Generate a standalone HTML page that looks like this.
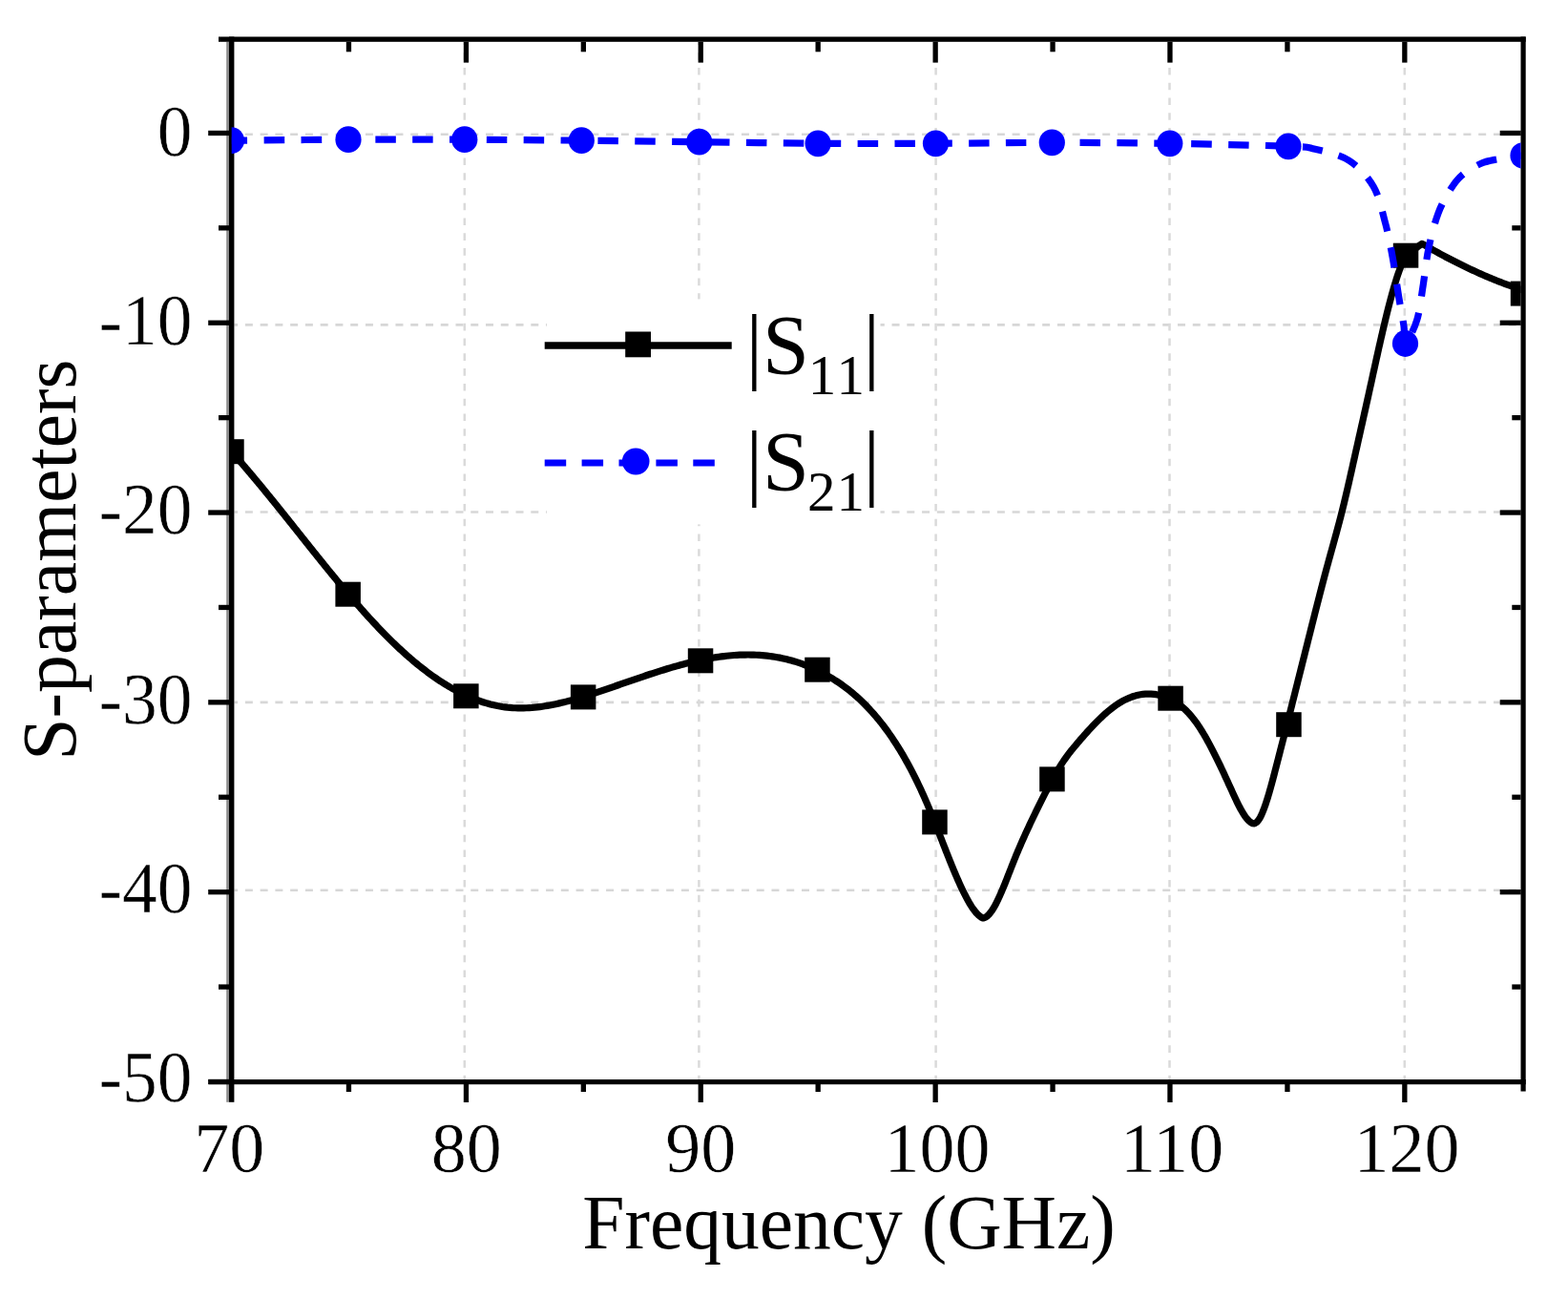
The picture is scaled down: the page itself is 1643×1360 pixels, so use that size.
<!DOCTYPE html><html><head><meta charset="utf-8"><title>S-parameters</title><style>html,body{margin:0;padding:0;background:#fff;overflow:hidden}svg{display:block}</style></head><body>
<svg width="1643" height="1360" viewBox="0 0 1643 1360">
<rect width="1643" height="1360" fill="#fff"/>
<defs><clipPath id="pa"><rect x="242.7" y="41" width="1350.8" height="1092.5"/></clipPath></defs>
<path d="M245.5,140.7H1593.5M245.5,340.4H1593.5M245.5,536.5H1593.5M245.5,735.9H1593.5M245.5,932.7H1593.5" stroke="#d7d7d7" stroke-width="2.6" stroke-dasharray="8 7.76" stroke-dashoffset="4.4" fill="none"/>
<path d="M486.8,44V1131M732.4,44V1131M980.6,44V1131M1225.5,44V1131M1471.8,44V1131" stroke="#dadada" stroke-width="2.5" stroke-dasharray="7.6 8.16" stroke-dashoffset="4.6" fill="none"/>
<rect x="573" y="313.4" width="349.5" height="236" fill="#fff"/>
<rect x="237.2" y="43.8" width="2.8" height="1111" fill="#8c8c8c"/>
<rect x="240" y="38.5" width="5.4" height="1116.3" fill="#000"/><rect x="1593.5" y="38.5" width="5.2" height="1105" fill="#000"/><rect x="229" y="38.5" width="1369.7" height="5.3" fill="#000"/><rect x="218.6" y="1131" width="1380.1" height="5.2" fill="#000"/><rect x="218.2" y="136.8" width="22" height="5.3" fill="#000"/><rect x="1571.7" y="136.8" width="22" height="5.3" fill="#000"/><rect x="218.2" y="335.6" width="22" height="5.3" fill="#000"/><rect x="1571.7" y="335.6" width="22" height="5.3" fill="#000"/><rect x="218.2" y="534.4" width="22" height="5.3" fill="#000"/><rect x="1571.7" y="534.4" width="22" height="5.3" fill="#000"/><rect x="218.2" y="733.2" width="22" height="5.3" fill="#000"/><rect x="1571.7" y="733.2" width="22" height="5.3" fill="#000"/><rect x="218.2" y="932.0" width="22" height="5.3" fill="#000"/><rect x="1571.7" y="932.0" width="22" height="5.3" fill="#000"/><rect x="218.2" y="1130.8" width="22" height="5.3" fill="#000"/><rect x="229" y="236.2" width="11" height="5.3" fill="#000"/><rect x="1584.3" y="236.2" width="9.2" height="5.3" fill="#000"/><rect x="229" y="435.0" width="11" height="5.3" fill="#000"/><rect x="1584.3" y="435.0" width="9.2" height="5.3" fill="#000"/><rect x="229" y="633.8" width="11" height="5.3" fill="#000"/><rect x="1584.3" y="633.8" width="9.2" height="5.3" fill="#000"/><rect x="229" y="832.6" width="11" height="5.3" fill="#000"/><rect x="1584.3" y="832.6" width="9.2" height="5.3" fill="#000"/><rect x="229" y="1031.4" width="11" height="5.3" fill="#000"/><rect x="1584.3" y="1031.4" width="9.2" height="5.3" fill="#000"/><rect x="485.8" y="1136" width="5.3" height="19" fill="#000"/><rect x="485.8" y="43.8" width="5.3" height="21.8" fill="#000"/><rect x="731.6" y="1136" width="5.3" height="19" fill="#000"/><rect x="731.6" y="43.8" width="5.3" height="21.8" fill="#000"/><rect x="977.5" y="1136" width="5.3" height="19" fill="#000"/><rect x="977.5" y="43.8" width="5.3" height="21.8" fill="#000"/><rect x="1223.3" y="1136" width="5.3" height="19" fill="#000"/><rect x="1223.3" y="43.8" width="5.3" height="21.8" fill="#000"/><rect x="1469.2" y="1136" width="5.3" height="19" fill="#000"/><rect x="1469.2" y="43.8" width="5.3" height="21.8" fill="#000"/><rect x="362.8" y="1136" width="5.3" height="8" fill="#000"/><rect x="362.8" y="43.8" width="5.3" height="10.5" fill="#000"/><rect x="608.7" y="1136" width="5.3" height="8" fill="#000"/><rect x="608.7" y="43.8" width="5.3" height="10.5" fill="#000"/><rect x="854.5" y="1136" width="5.3" height="8" fill="#000"/><rect x="854.5" y="43.8" width="5.3" height="10.5" fill="#000"/><rect x="1100.4" y="1136" width="5.3" height="8" fill="#000"/><rect x="1100.4" y="43.8" width="5.3" height="10.5" fill="#000"/><rect x="1346.3" y="1136" width="5.3" height="8" fill="#000"/><rect x="1346.3" y="43.8" width="5.3" height="10.5" fill="#000"/>
<g clip-path="url(#pa)">
<path d="M242.50,473.20 L243.92,474.78 L245.34,476.37 L246.75,477.96 L248.16,479.56 L249.56,481.16 L250.96,482.76 L252.36,484.36 L253.76,485.97 L255.15,487.58 L256.54,489.20 L257.93,490.81 L259.31,492.43 L260.69,494.06 L262.07,495.68 L263.44,497.31 L264.81,498.94 L266.18,500.57 L267.55,502.21 L268.92,503.84 L270.28,505.48 L271.64,507.12 L273.00,508.77 L274.36,510.41 L275.71,512.06 L277.07,513.71 L278.42,515.36 L279.77,517.01 L281.12,518.66 L282.46,520.32 L283.81,521.97 L285.15,523.63 L286.50,525.29 L287.84,526.95 L289.18,528.61 L290.52,530.27 L291.85,531.94 L293.19,533.60 L294.53,535.27 L295.86,536.93 L297.20,538.60 L298.53,540.26 L299.86,541.93 L301.20,543.60 L302.53,545.27 L303.86,546.94 L305.19,548.61 L306.52,550.28 L307.85,551.95 L309.18,553.62 L310.51,555.29 L311.84,556.96 L313.17,558.63 L314.50,560.30 L315.83,561.97 L317.16,563.64 L318.49,565.31 L319.82,566.98 L321.15,568.65 L322.48,570.32 L323.81,571.99 L325.14,573.66 L326.47,575.32 L327.80,576.99 L329.14,578.66 L330.47,580.32 L331.81,581.99 L333.14,583.65 L334.48,585.31 L335.81,586.97 L337.15,588.63 L338.49,590.29 L339.83,591.95 L341.18,593.61 L342.52,595.26 L343.86,596.92 L345.21,598.57 L346.56,600.22 L347.91,601.87 L349.26,603.52 L350.61,605.16 L351.96,606.80 L353.32,608.45 L354.68,610.09 L356.04,611.72 L357.40,613.36 L358.77,614.99 L360.13,616.62 L361.50,618.25 L362.87,619.88 L364.25,621.50 L365.62,623.12 L367.00,624.74 L368.39,626.35 L369.77,627.97 L371.16,629.57 L372.55,631.18 L373.94,632.78 L375.34,634.38 L376.74,635.98 L378.14,637.57 L379.55,639.16 L380.96,640.75 L382.37,642.33 L383.79,643.91 L385.21,645.48 L386.64,647.05 L388.07,648.61 L389.51,650.18 L390.94,651.73 L392.39,653.28 L393.84,654.83 L395.29,656.37 L396.75,657.91 L398.21,659.44 L399.68,660.97 L401.15,662.49 L402.63,664.01 L404.11,665.52 L405.60,667.02 L407.10,668.52 L408.60,670.01 L410.11,671.50 L411.62,672.97 L413.15,674.45 L414.67,675.91 L416.21,677.37 L417.75,678.82 L419.30,680.26 L420.86,681.70 L422.42,683.13 L424.00,684.55 L425.58,685.96 L427.16,687.36 L428.76,688.76 L430.37,690.14 L431.98,691.52 L433.60,692.89 L435.23,694.25 L436.87,695.60 L438.52,696.95 L440.18,698.28 L441.85,699.60 L443.53,700.91 L445.22,702.21 L446.92,703.50 L448.63,704.78 L450.35,706.05 L452.09,707.30 L453.83,708.55 L455.59,709.78 L457.36,711.00 L459.14,712.20 L460.94,713.40 L462.75,714.58 L464.57,715.74 L466.41,716.89 L468.26,718.03 L470.13,719.15 L472.01,720.25 L473.91,721.34 L475.83,722.41 L477.76,723.46 L479.71,724.50 L481.68,725.51 L483.67,726.51 L485.68,727.49 L487.71,728.44 L489.76,729.38 L491.83,730.29 L493.93,731.18 L496.05,732.04 L498.19,732.88 L500.36,733.69 L502.56,734.47 L504.78,735.23 L507.04,735.95 L509.33,736.64 L511.65,737.30 L514.00,737.93 L516.39,738.51 L518.82,739.06 L521.28,739.57 L523.79,740.03 L526.35,740.45 L528.95,740.81 L531.61,741.13 L534.32,741.39 L537.08,741.60 L539.90,741.75 L542.78,741.84 L545.71,741.87 L548.71,741.84 L551.65,741.75 L554.53,741.60 L557.36,741.41 L560.14,741.16 L562.88,740.88 L565.58,740.56 L568.24,740.20 L570.87,739.81 L573.46,739.38 L576.03,738.93 L578.57,738.45 L581.08,737.95 L583.57,737.43 L586.03,736.88 L588.47,736.31 L590.90,735.72 L593.30,735.12 L595.69,734.50 L598.07,733.86 L600.43,733.21 L602.77,732.55 L605.10,731.87 L607.42,731.18 L609.73,730.49 L612.03,729.78 L614.32,729.07 L616.60,728.34 L618.88,727.61 L621.15,726.87 L623.41,726.13 L625.66,725.38 L627.91,724.63 L630.16,723.87 L632.40,723.11 L634.64,722.35 L636.88,721.59 L639.11,720.82 L641.34,720.05 L643.58,719.28 L645.80,718.51 L648.03,717.74 L650.26,716.97 L652.49,716.19 L654.72,715.42 L656.94,714.65 L659.17,713.88 L661.40,713.11 L663.63,712.34 L665.87,711.58 L668.10,710.81 L670.34,710.05 L672.58,709.29 L674.82,708.54 L677.06,707.78 L679.31,707.04 L681.57,706.29 L683.82,705.55 L686.09,704.82 L688.35,704.09 L690.63,703.37 L692.91,702.65 L695.19,701.94 L697.48,701.24 L699.78,700.54 L702.09,699.85 L704.41,699.17 L706.73,698.50 L709.06,697.84 L711.40,697.19 L713.76,696.55 L716.12,695.92 L718.49,695.30 L720.88,694.70 L723.28,694.10 L725.69,693.52 L728.12,692.96 L730.56,692.41 L733.01,691.87 L735.48,691.35 L737.97,690.85 L740.47,690.36 L743.00,689.90 L745.54,689.45 L748.10,689.03 L750.68,688.62 L753.29,688.24 L755.92,687.89 L758.58,687.56 L761.26,687.26 L763.97,686.98 L766.71,686.74 L769.48,686.53 L772.28,686.35 L775.12,686.21 L778.00,686.10 L780.91,686.04 L783.87,686.02 L786.87,686.05 L789.82,686.12 L792.72,686.24 L795.58,686.41 L798.40,686.61 L801.18,686.86 L803.91,687.15 L806.60,687.48 L809.26,687.84 L811.88,688.25 L814.46,688.69 L817.00,689.16 L819.51,689.67 L821.98,690.22 L824.43,690.80 L826.84,691.41 L829.21,692.05 L831.56,692.72 L833.88,693.42 L836.17,694.15 L838.43,694.91 L840.66,695.70 L842.87,696.51 L845.05,697.35 L847.20,698.21 L849.33,699.10 L851.43,700.02 L853.51,700.95 L855.57,701.91 L857.60,702.90 L859.61,703.90 L861.60,704.93 L863.57,705.98 L865.52,707.05 L867.44,708.13 L869.35,709.24 L871.24,710.37 L873.10,711.52 L874.95,712.68 L876.78,713.87 L878.60,715.07 L880.39,716.30 L882.16,717.54 L883.91,718.80 L885.65,720.09 L887.37,721.39 L889.06,722.70 L890.74,724.04 L892.41,725.39 L894.05,726.77 L895.67,728.16 L897.28,729.57 L898.87,730.99 L900.45,732.43 L902.00,733.89 L903.55,735.37 L905.07,736.86 L906.58,738.37 L908.07,739.89 L909.55,741.43 L911.01,742.99 L912.45,744.56 L913.88,746.14 L915.30,747.74 L916.70,749.35 L918.09,750.98 L919.46,752.62 L920.82,754.28 L922.17,755.95 L923.50,757.63 L924.82,759.32 L926.13,761.03 L927.42,762.75 L928.71,764.48 L929.98,766.23 L931.23,767.98 L932.48,769.75 L933.71,771.53 L934.94,773.32 L936.15,775.13 L937.34,776.94 L938.53,778.77 L939.71,780.61 L940.88,782.46 L942.03,784.31 L943.18,786.18 L944.31,788.06 L945.43,789.95 L946.55,791.85 L947.65,793.76 L948.74,795.68 L949.83,797.61 L950.90,799.55 L951.97,801.50 L953.03,803.45 L954.07,805.42 L955.11,807.39 L956.14,809.38 L957.16,811.37 L958.17,813.37 L959.18,815.38 L960.17,817.39 L961.16,819.42 L962.14,821.45 L963.11,823.49 L964.08,825.54 L965.03,827.60 L965.98,829.66 L966.92,831.73 L967.85,833.81 L968.78,835.89 L969.70,837.98 L970.61,840.08 L971.52,842.19 L972.42,844.30 L973.31,846.42 L974.20,848.54 L975.08,850.67 L975.95,852.81 L976.82,854.95 L977.68,857.09 L978.55,859.23 L979.40,861.38 L980.26,863.53 L981.11,865.69 L981.96,867.84 L982.80,870.00 L983.65,872.16 L984.49,874.32 L985.33,876.47 L986.18,878.63 L987.02,880.79 L987.86,882.95 L988.70,885.11 L989.54,887.26 L990.39,889.42 L991.23,891.57 L992.08,893.72 L992.93,895.87 L993.78,898.01 L994.63,900.15 L995.49,902.29 L996.35,904.42 L997.22,906.55 L998.09,908.67 L998.96,910.78 L999.84,912.89 L1000.73,915.00 L1001.62,917.09 L1002.52,919.18 L1003.42,921.26 L1004.34,923.33 L1005.26,925.39 L1006.20,927.44 L1007.14,929.48 L1008.10,931.50 L1009.07,933.51 L1010.05,935.50 L1011.05,937.48 L1012.07,939.44 L1013.10,941.38 L1014.15,943.30 L1015.23,945.19 L1016.33,947.05 L1017.45,948.88 L1018.62,950.67 L1019.82,952.42 L1021.06,954.11 L1022.36,955.74 L1023.73,957.28 L1025.18,958.74 L1026.73,960.06 L1028.42,961.21 L1030.00,962.00 L1032.69,961.08 L1034.61,959.71 L1036.23,958.14 L1037.67,956.44 L1038.99,954.66 L1040.22,952.80 L1041.38,950.89 L1042.49,948.94 L1043.56,946.95 L1044.59,944.93 L1045.59,942.89 L1046.56,940.83 L1047.51,938.75 L1048.44,936.65 L1049.36,934.54 L1050.26,932.43 L1051.15,930.30 L1052.03,928.16 L1052.90,926.02 L1053.76,923.87 L1054.62,921.72 L1055.47,919.56 L1056.32,917.40 L1057.16,915.25 L1058.01,913.09 L1058.85,910.94 L1059.70,908.78 L1060.54,906.64 L1061.39,904.49 L1062.25,902.35 L1063.10,900.22 L1063.97,898.10 L1064.84,895.98 L1065.72,893.87 L1066.60,891.76 L1067.49,889.66 L1068.38,887.56 L1069.29,885.47 L1070.19,883.39 L1071.10,881.31 L1072.02,879.24 L1072.94,877.17 L1073.87,875.11 L1074.81,873.05 L1075.75,871.00 L1076.69,868.95 L1077.64,866.90 L1078.59,864.86 L1079.55,862.83 L1080.51,860.79 L1081.48,858.77 L1082.44,856.74 L1083.42,854.72 L1084.40,852.70 L1085.38,850.69 L1086.36,848.68 L1087.35,846.67 L1088.34,844.67 L1089.33,842.67 L1090.33,840.67 L1091.33,838.67 L1092.33,836.68 L1093.34,834.69 L1094.35,832.70 L1095.36,830.72 L1096.38,828.75 L1097.40,826.78 L1098.43,824.81 L1099.46,822.85 L1100.50,820.90 L1101.55,818.96 L1102.60,817.03 L1103.66,815.10 L1104.73,813.19 L1105.82,811.28 L1106.91,809.39 L1108.01,807.52 L1109.13,805.65 L1110.26,803.80 L1111.41,801.97 L1112.57,800.16 L1113.75,798.36 L1114.95,796.59 L1116.18,794.84 L1117.42,793.10 L1118.68,791.39 L1119.96,789.69 L1121.27,788.01 L1122.58,786.35 L1123.92,784.70 L1125.27,783.06 L1126.62,781.43 L1127.99,779.81 L1129.37,778.19 L1130.75,776.57 L1132.13,774.96 L1133.52,773.35 L1134.91,771.76 L1136.31,770.16 L1137.72,768.58 L1139.14,767.00 L1140.56,765.43 L1141.99,763.87 L1143.42,762.32 L1144.87,760.77 L1146.33,759.24 L1147.80,757.73 L1149.28,756.22 L1150.78,754.73 L1152.29,753.25 L1153.81,751.79 L1155.35,750.34 L1156.90,748.92 L1158.48,747.51 L1160.07,746.12 L1161.69,744.76 L1163.33,743.42 L1164.99,742.11 L1166.68,740.83 L1168.40,739.57 L1170.15,738.36 L1171.94,737.18 L1173.77,736.04 L1175.64,734.94 L1177.55,733.89 L1179.51,732.90 L1181.53,731.95 L1183.61,731.07 L1185.74,730.25 L1187.95,729.51 L1190.23,728.84 L1192.59,728.26 L1195.05,727.78 L1197.61,727.40 L1200.28,727.15 L1203.10,727.05 L1206.07,727.11 L1208.92,727.33 L1211.63,727.69 L1214.22,728.18 L1216.69,728.77 L1219.07,729.45 L1221.35,730.23 L1223.54,731.10 L1225.65,732.04 L1227.68,733.07 L1229.64,734.16 L1231.54,735.31 L1233.37,736.53 L1235.15,737.80 L1236.87,739.13 L1238.54,740.50 L1240.16,741.92 L1241.73,743.39 L1243.26,744.90 L1244.76,746.44 L1246.21,748.03 L1247.63,749.65 L1249.01,751.30 L1250.37,752.98 L1251.69,754.69 L1252.98,756.43 L1254.24,758.20 L1255.48,760.00 L1256.69,761.81 L1257.88,763.65 L1259.05,765.50 L1260.21,767.37 L1261.34,769.26 L1262.46,771.16 L1263.56,773.08 L1264.65,775.01 L1265.73,776.95 L1266.79,778.90 L1267.84,780.86 L1268.89,782.83 L1269.92,784.81 L1270.95,786.80 L1271.96,788.79 L1272.97,790.80 L1273.97,792.80 L1274.97,794.82 L1275.95,796.84 L1276.94,798.87 L1277.91,800.90 L1278.89,802.93 L1279.85,804.97 L1280.82,807.01 L1281.78,809.06 L1282.73,811.11 L1283.68,813.16 L1284.63,815.22 L1285.58,817.27 L1286.53,819.33 L1287.47,821.39 L1288.41,823.46 L1289.35,825.52 L1290.29,827.58 L1291.22,829.64 L1292.16,831.70 L1293.11,833.75 L1294.05,835.79 L1295.01,837.81 L1295.98,839.83 L1296.95,841.83 L1297.95,843.81 L1298.96,845.77 L1299.99,847.70 L1301.05,849.60 L1302.14,851.46 L1303.27,853.28 L1304.44,855.04 L1305.67,856.73 L1306.97,858.33 L1308.36,859.82 L1309.88,861.14 L1311.57,862.23 L1312.40,862.60 L1314.46,862.84 L1316.93,861.40 L1318.48,859.62 L1319.75,857.68 L1320.87,855.65 L1321.89,853.56 L1322.84,851.41 L1323.73,849.23 L1324.58,847.01 L1325.39,844.77 L1326.18,842.50 L1326.93,840.21 L1327.67,837.91 L1328.39,835.59 L1329.09,833.27 L1329.78,830.93 L1330.46,828.58 L1331.12,826.22 L1331.78,823.86 L1332.43,821.49 L1333.07,819.12 L1333.71,816.74 L1334.34,814.36 L1334.96,811.98 L1335.58,809.60 L1336.20,807.21 L1336.82,804.82 L1337.44,802.44 L1338.05,800.05 L1338.67,797.67 L1339.28,795.28 L1339.89,792.89 L1340.51,790.50 L1341.12,788.11 L1341.73,785.72 L1342.34,783.33 L1342.95,780.94 L1343.56,778.55 L1344.17,776.16 L1344.78,773.77 L1345.39,771.38 L1346.00,768.99 L1346.61,766.59 L1347.22,764.20 L1347.83,761.81 L1348.43,759.41 L1349.04,757.02 L1349.65,754.63 L1350.25,752.23 L1350.86,749.84 L1351.47,747.44 L1352.07,745.05 L1352.68,742.65 L1353.28,740.26 L1353.89,737.86 L1354.49,735.46 L1355.09,733.07 L1355.70,730.67 L1356.30,728.27 L1356.91,725.88 L1357.51,723.48 L1358.11,721.08 L1358.72,718.69 L1359.32,716.29 L1359.92,713.89 L1360.52,711.49 L1361.13,709.10 L1361.73,706.70 L1362.33,704.30 L1362.93,701.90 L1363.54,699.50 L1364.14,697.11 L1364.74,694.71 L1365.34,692.31 L1365.94,689.91 L1366.55,687.52 L1367.15,685.12 L1367.75,682.72 L1368.35,680.32 L1368.96,677.92 L1369.56,675.53 L1370.16,673.13 L1370.76,670.73 L1371.36,668.33 L1371.97,665.94 L1372.57,663.54 L1373.17,661.14 L1373.78,658.75 L1374.38,656.35 L1374.98,653.95 L1375.59,651.56 L1376.19,649.16 L1376.79,646.77 L1377.40,644.38 L1378.01,641.98 L1378.61,639.59 L1379.22,637.20 L1379.83,634.81 L1380.44,632.42 L1381.05,630.04 L1381.66,627.65 L1382.27,625.27 L1382.88,622.88 L1383.50,620.50 L1384.11,618.12 L1384.73,615.74 L1385.35,613.37 L1385.97,610.99 L1386.59,608.62 L1387.22,606.25 L1387.85,603.88 L1388.48,601.51 L1389.11,599.15 L1389.74,596.79 L1390.38,594.43 L1391.02,592.08 L1391.66,589.73 L1392.30,587.38 L1392.95,585.03 L1393.60,582.68 L1394.25,580.33 L1394.90,577.99 L1395.55,575.64 L1396.20,573.29 L1396.85,570.94 L1397.51,568.59 L1398.16,566.24 L1398.81,563.88 L1399.45,561.53 L1400.10,559.17 L1400.74,556.80 L1401.38,554.43 L1402.02,552.06 L1402.65,549.69 L1403.28,547.30 L1403.90,544.92 L1404.52,542.53 L1405.14,540.13 L1405.75,537.73 L1406.35,535.32 L1406.95,532.90 L1407.55,530.49 L1408.14,528.06 L1408.72,525.64 L1409.30,523.21 L1409.88,520.78 L1410.45,518.34 L1411.02,515.90 L1411.59,513.46 L1412.16,511.02 L1412.72,508.58 L1413.28,506.13 L1413.84,503.68 L1414.39,501.24 L1414.95,498.79 L1415.50,496.34 L1416.05,493.88 L1416.60,491.43 L1417.15,488.98 L1417.70,486.53 L1418.25,484.07 L1418.80,481.62 L1419.34,479.17 L1419.89,476.72 L1420.44,474.27 L1420.99,471.82 L1421.54,469.37 L1422.09,466.92 L1422.64,464.47 L1423.19,462.02 L1423.74,459.57 L1424.29,457.12 L1424.84,454.67 L1425.39,452.22 L1425.94,449.77 L1426.49,447.32 L1427.04,444.87 L1427.59,442.42 L1428.14,439.97 L1428.69,437.52 L1429.24,435.06 L1429.78,432.61 L1430.33,430.16 L1430.88,427.70 L1431.43,425.25 L1431.97,422.79 L1432.52,420.34 L1433.06,417.88 L1433.61,415.42 L1434.15,412.96 L1434.69,410.50 L1435.23,408.04 L1435.78,405.58 L1436.32,403.12 L1436.86,400.66 L1437.40,398.20 L1437.93,395.74 L1438.47,393.28 L1439.01,390.82 L1439.55,388.36 L1440.09,385.90 L1440.63,383.44 L1441.18,380.99 L1441.72,378.53 L1442.26,376.08 L1442.80,373.62 L1443.35,371.17 L1443.89,368.72 L1444.44,366.27 L1444.99,363.83 L1445.54,361.38 L1446.09,358.94 L1446.65,356.50 L1447.21,354.06 L1447.76,351.63 L1448.33,349.20 L1448.89,346.77 L1449.46,344.34 L1450.03,341.92 L1450.60,339.50 L1451.18,337.09 L1451.76,334.68 L1452.34,332.27 L1452.93,329.87 L1453.52,327.48 L1454.12,325.09 L1454.72,322.71 L1455.33,320.33 L1455.95,317.96 L1456.57,315.59 L1457.19,313.23 L1457.83,310.88 L1458.47,308.54 L1459.12,306.21 L1459.77,303.89 L1460.44,301.58 L1461.12,299.28 L1461.80,296.99 L1462.50,294.71 L1463.21,292.45 L1463.94,290.20 L1464.67,287.97 L1465.43,285.76 L1466.20,283.57 L1466.99,281.40 L1467.80,279.26 L1468.64,277.14 L1469.50,275.05 L1470.40,273.00 L1471.33,271.00 L1472.30,269.03 L1473.00,267.70 L1473.89,267.05 L1474.79,266.39 L1475.68,265.74 L1476.58,265.09 L1477.47,264.44 L1478.37,263.78 L1479.26,263.13 L1480.16,262.48 L1481.05,261.83 L1481.95,261.17 L1482.84,260.52 L1483.74,259.87 L1484.63,259.22 L1485.53,258.56 L1486.42,257.91 L1487.32,257.26 L1488.21,256.61 L1489.11,255.95 L1490.00,255.30 L1491.90,256.40 L1493.80,257.49 L1495.71,258.58 L1497.63,259.66 L1499.54,260.74 L1501.46,261.81 L1503.39,262.88 L1505.32,263.95 L1507.26,265.01 L1509.20,266.06 L1511.15,267.11 L1513.10,268.16 L1515.05,269.20 L1517.02,270.23 L1518.98,271.26 L1520.96,272.28 L1522.93,273.30 L1524.92,274.31 L1526.91,275.32 L1528.90,276.32 L1530.91,277.31 L1532.92,278.30 L1534.93,279.28 L1536.95,280.25 L1538.98,281.22 L1541.01,282.18 L1543.05,283.13 L1545.10,284.08 L1547.16,285.02 L1549.22,285.95 L1551.29,286.88 L1553.37,287.79 L1555.45,288.70 L1557.54,289.60 L1559.65,290.50 L1561.75,291.38 L1563.87,292.26 L1566.00,293.13 L1568.13,293.99 L1570.28,294.83 L1572.43,295.68 L1574.59,296.51 L1576.76,297.33 L1578.95,298.14 L1581.14,298.94 L1583.34,299.73 L1585.55,300.51 L1587.78,301.28 L1590.01,302.04 L1592.25,302.79 L1594.51,303.52 L1596.00,304.00" stroke="#000" stroke-width="7.2" fill="none" stroke-linejoin="round"/>
<rect x="229.2" y="460.2" width="26.5" height="26" fill="#000"/><rect x="351.4" y="609.7" width="26.5" height="26" fill="#000"/><rect x="475.1" y="716.3" width="26.5" height="26" fill="#000"/><rect x="597.9" y="717.4" width="26.5" height="26" fill="#000"/><rect x="720.8" y="679.3" width="26.5" height="26" fill="#000"/><rect x="843.2" y="688.7" width="26.5" height="26" fill="#000"/><rect x="966.2" y="848.4" width="26.5" height="26" fill="#000"/><rect x="1089.2" y="803.4" width="26.5" height="26" fill="#000"/><rect x="1213.3" y="718.7" width="26.5" height="26" fill="#000"/><rect x="1337.2" y="746.2" width="26.5" height="26" fill="#000"/><rect x="1459.8" y="254.7" width="26.5" height="26" fill="#000"/><rect x="1582.8" y="294.6" width="26.5" height="26" fill="#000"/>
<path d="M242.5,147.2 C262.9,147.0 324.3,146.4 365.0,146.2 C405.7,146.0 446.1,146.0 486.8,146.2 C527.5,146.4 568.3,146.8 609.3,147.2 C650.3,147.6 691.4,148.2 732.7,148.7 C774.0,149.2 815.8,150.0 857.1,150.3 C898.4,150.6 939.6,150.5 980.5,150.3 C1021.4,150.2 1061.4,149.4 1102.3,149.4 C1143.2,149.4 1184.5,149.7 1225.8,150.3 C1267.1,151.0 1324.6,152.3 1350.0,153.3 C1375.4,154.3 1367.4,153.8 1378.0,156.3 C1388.6,158.8 1403.4,161.7 1413.6,168.2 C1423.8,174.7 1432.9,184.6 1439.2,195.5 C1445.5,206.4 1448.1,220.8 1451.5,233.4 C1454.9,246.0 1457.2,258.4 1459.5,271.3 C1461.8,284.2 1463.7,298.9 1465.6,310.6 C1467.5,322.3 1469.8,333.3 1471.0,341.5 C1472.2,349.7 1470.2,361.1 1472.5,360.0 C1474.8,358.9 1481.7,345.3 1484.8,335.0 C1487.9,324.7 1489.3,310.7 1491.3,298.2 C1493.3,285.7 1494.4,272.5 1497.0,260.0 C1499.6,247.5 1503.2,233.6 1507.1,223.2 C1511.0,212.8 1516.3,204.0 1520.5,197.4 C1524.7,190.8 1526.8,187.9 1532.0,183.5 C1537.2,179.1 1545.6,174.0 1552.0,171.2 C1558.4,168.4 1562.9,168.0 1570.2,166.6 C1577.5,165.2 1591.7,163.5 1596.0,162.9" stroke="#0000ff" stroke-width="7.2" fill="none" stroke-dasharray="21.5 17.36" stroke-dashoffset="4.6"/>
<ellipse cx="242.5" cy="147.2" rx="13.6" ry="13.9" fill="#0000ff"/><ellipse cx="365.0" cy="146.2" rx="13.6" ry="13.9" fill="#0000ff"/><ellipse cx="486.8" cy="146.2" rx="13.6" ry="13.9" fill="#0000ff"/><ellipse cx="609.3" cy="147.2" rx="13.6" ry="13.9" fill="#0000ff"/><ellipse cx="732.7" cy="148.7" rx="13.6" ry="13.9" fill="#0000ff"/><ellipse cx="857.1" cy="150.3" rx="13.6" ry="13.9" fill="#0000ff"/><ellipse cx="980.5" cy="150.3" rx="13.6" ry="13.9" fill="#0000ff"/><ellipse cx="1102.3" cy="149.4" rx="13.6" ry="13.9" fill="#0000ff"/><ellipse cx="1225.8" cy="150.3" rx="13.6" ry="13.9" fill="#0000ff"/><ellipse cx="1350.0" cy="153.3" rx="13.6" ry="13.9" fill="#0000ff"/><ellipse cx="1472.5" cy="360.0" rx="13.6" ry="13.9" fill="#0000ff"/><ellipse cx="1596.0" cy="162.9" rx="13.6" ry="13.9" fill="#0000ff"/>
</g>
<path d="M570.7,362.1H766.7" stroke="#000" stroke-width="7.5"/>
<rect x="655.2" y="347.5" width="26.8" height="26.8" fill="#000"/>
<path d="M570.7,485H749.6" stroke="#0000ff" stroke-width="7.2" stroke-dasharray="22.5 16.4"/>
<ellipse cx="666.2" cy="483.5" rx="14.3" ry="14" fill="#0000ff"/>
<g font-family="Liberation Serif, Times New Roman, serif" fill="#000">
<text x="781.6" y="391.0" font-size="88">|</text>
<text x="798.9" y="391.0" font-size="88">S</text>
<text x="846.8" y="413.0" font-size="59">1</text>
<text x="876.5" y="413.0" font-size="59">1</text>
<text x="904.4" y="391.0" font-size="88">|</text>
<text x="781.6" y="513.0" font-size="88">|</text>
<text x="798.9" y="513.0" font-size="88">S</text>
<text x="845.9" y="534.8" font-size="59">2</text>
<text x="876.5" y="534.8" font-size="59">1</text>
<text x="904.4" y="513.0" font-size="88">|</text>
<text transform="translate(201.4,163.0) scale(1,1.04)" font-size="73.5" text-anchor="end" stroke="#fff" stroke-width="0.5">0</text>
<text transform="translate(201.4,361.2) scale(1,1.04)" font-size="73.5" text-anchor="end" stroke="#fff" stroke-width="0.5">-10</text>
<text transform="translate(201.4,559.4) scale(1,1.04)" font-size="73.5" text-anchor="end" stroke="#fff" stroke-width="0.5">-20</text>
<text transform="translate(201.4,757.6) scale(1,1.04)" font-size="73.5" text-anchor="end" stroke="#fff" stroke-width="0.5">-30</text>
<text transform="translate(201.4,955.8) scale(1,1.04)" font-size="73.5" text-anchor="end" stroke="#fff" stroke-width="0.5">-40</text>
<text transform="translate(201.4,1154.0) scale(1,1.04)" font-size="73.5" text-anchor="end" stroke="#fff" stroke-width="0.5">-50</text>
<text x="240.2" y="1228.3" font-size="74" text-anchor="middle" stroke="#fff" stroke-width="0.5">70</text>
<text x="488.7" y="1228.3" font-size="74" text-anchor="middle" stroke="#fff" stroke-width="0.5">80</text>
<text x="734.3" y="1228.3" font-size="74" text-anchor="middle" stroke="#fff" stroke-width="0.5">90</text>
<text x="982.0" y="1228.3" font-size="74" text-anchor="middle" stroke="#fff" stroke-width="0.5">100</text>
<text x="1228.1" y="1228.3" font-size="74" text-anchor="middle" stroke="#fff" stroke-width="0.5">110</text>
<text x="1474.0" y="1228.3" font-size="74" text-anchor="middle" stroke="#fff" stroke-width="0.5">120</text>
<text x="889.5" y="1307.6" font-size="79.5" text-anchor="middle">Frequency (GHz)</text>
<text transform="translate(78.5,586.6) rotate(-90)" font-size="79.7" text-anchor="middle">S-parameters</text>
</g>
</svg></body></html>
